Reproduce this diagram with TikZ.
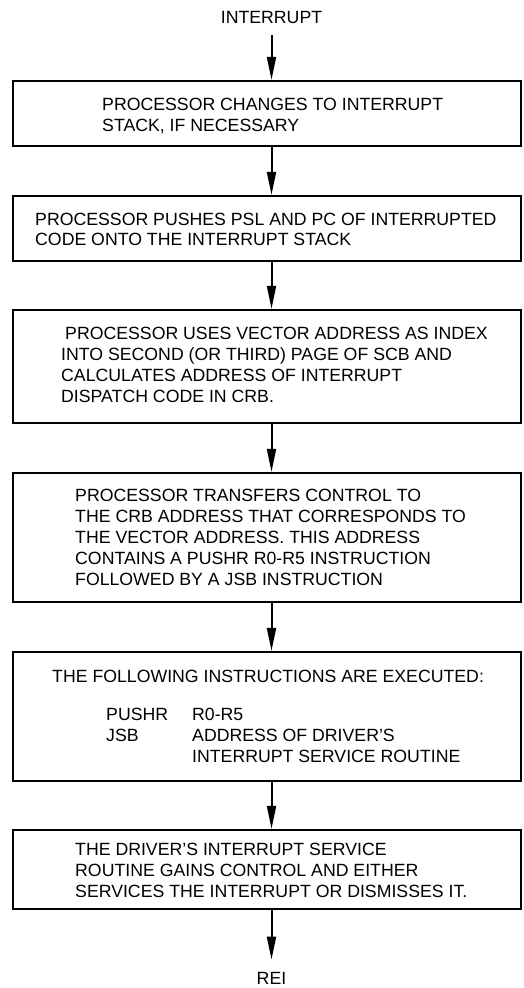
\documentclass[tikz,border=0pt]{standalone}
\usepackage{fontspec}
\setmainfont{Liberation Sans}
\usetikzlibrary{arrows.meta}
\begin{document}
\begin{tikzpicture}[x=1pt,y=-1pt,
  stepbox/.style={draw, line width=2.2pt, rectangle, inner sep=0pt, minimum width=508pt},
  ln/.style={inner sep=0pt, anchor=base west, font=\fontsize{17.7}{21}\selectfont},
  lbl/.style={inner sep=0pt, anchor=base, font=\fontsize{17.7}{21}\selectfont},
  flow/.style={line width=2pt, -{Triangle[length=23pt,width=9pt]}}]
\useasboundingbox (0,0) rectangle (523,988);

% terminal labels
\node[lbl] (irq) at (271.5,23) {INTERRUPT};
\node[lbl] (rei) at (271.5,984) {REI};

% process boxes
\node[stepbox, minimum height=65pt]  (b1) at (267,113.5) {};
\node[stepbox, minimum height=65pt]  (b2) at (267,228.5) {};
\node[stepbox, minimum height=113pt] (b3) at (267,366.5) {};
\node[stepbox, minimum height=129pt] (b4) at (267,537.5) {};
\node[stepbox, minimum height=129pt] (b5) at (267,716.5) {};
\node[stepbox, minimum height=79pt]  (b6) at (267,869.5) {};

% box texts
\node[ln] (t11) at (102,110) {PROCESSOR CHANGES TO INTERRUPT};
\node[ln] (t12) at (102,131) {STACK, IF NECESSARY};

\node[ln] (t21) at (35,225) {PROCESSOR PUSHES PSL AND PC OF INTERRUPTED};
\node[ln] (t22) at (35,245) {CODE ONTO THE INTERRUPT STACK};

\node[ln] (t31) at (65,339) {PROCESSOR USES VECTOR ADDRESS AS INDEX};
\node[ln] (t32) at (61,360) {INTO SECOND (OR THIRD) PAGE OF SCB AND};
\node[ln] (t33) at (61,381) {CALCULATES ADDRESS OF INTERRUPT};
\node[ln] (t34) at (61,402) {DISPATCH CODE IN CRB.};

\node[ln] (t41) at (75,501) {PROCESSOR TRANSFERS CONTROL TO};
\node[ln] (t42) at (75,522) {THE CRB ADDRESS THAT CORRESPONDS TO};
\node[ln] (t43) at (75,543) {THE VECTOR ADDRESS. THIS ADDRESS};
\node[ln] (t44) at (75,564) {CONTAINS A PUSHR R0-R5 INSTRUCTION};
\node[ln] (t45) at (75,585) {FOLLOWED BY A JSB INSTRUCTION};

\node[ln] (t51) at (52,682) {THE FOLLOWING INSTRUCTIONS ARE EXECUTED:};
\node[ln] (t52) at (106,720) {PUSHR};
\node[ln] (t53) at (192,720) {R0-R5};
\node[ln] (t54) at (106,741) {JSB};
\node[ln] (t55) at (192,741) {ADDRESS OF DRIVER'S};
\node[ln] (t56) at (192,762) {INTERRUPT SERVICE ROUTINE};

\node[ln] (t61) at (75,855) {THE DRIVER'S INTERRUPT SERVICE};
\node[ln] (t62) at (75,876) {ROUTINE GAINS CONTROL AND EITHER};
\node[ln] (t63) at (75,897) {SERVICES THE INTERRUPT OR DISMISSES IT.};

% flow arrows
\draw[flow, shorten <=12pt] (irq.south) -- (irq |- b1.north);
\draw[flow] (irq |- b1.south) -- (irq |- b2.north);
\draw[flow] (irq |- b2.south) -- (irq |- b3.north);
\draw[flow] (irq |- b3.south) -- (irq |- b4.north);
\draw[flow] (irq |- b4.south) -- (irq |- b5.north);
\draw[flow] (irq |- b5.south) -- (irq |- b6.north);
\draw[flow, shorten >=12pt] (irq |- b6.south) -- (rei.north);
\end{tikzpicture}
\end{document}
